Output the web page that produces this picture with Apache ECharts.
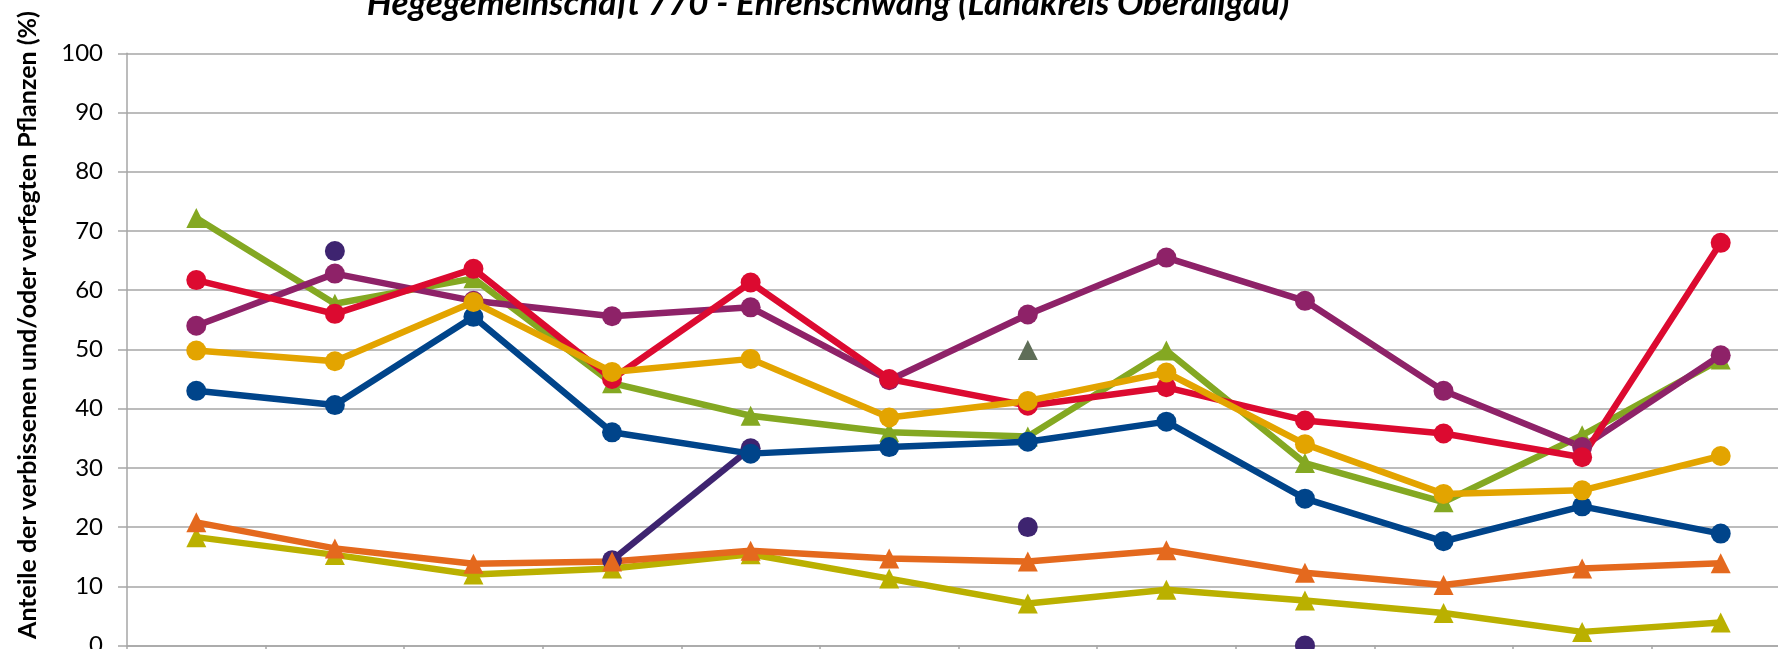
<!DOCTYPE html>
<html>
<head>
<meta charset="utf-8">
<script src="https://cdn.jsdelivr.net/npm/echarts@6/dist/echarts.min.js"></script>
<style>
html,body{margin:0;padding:0;background:#fff;}
#chart{width:1778px;height:649px;}
</style>
</head>
<body>
<div id="chart"></div>
<script>
const titleText = 'Hegegemeinschaft 770 - Ehrenschwang (Landkreis Oberallgäu)';
const yAxisTitle = 'Anteile der verbissenen und/oder verfegten Pflanzen (%)';
const categories = ['1991','1994','1997','2000','2003','2006','2009','2012','2015','2018','2021','2024'];

const darkPurple = [null, 66.6, null, 14.4, 33.3, null, 20.0, null, 0.0, null, null, null];
const yellowTri  = [18.3, 15.3, 12.0, 13.0, 15.4, 11.3, 7.1, 9.4, 7.6, 5.5, 2.3, 3.9];
const orangeTri  = [20.8, 16.4, 13.8, 14.2, 16.0, 14.7, 14.2, 16.1, 12.3, 10.2, 13.0, 13.9];
const greenTri   = [72.2, 57.7, 62.0, 44.3, 38.8, 36.0, 35.3, 49.8, 30.8, 24.2, 35.5, 48.3];
const purple     = [54.0, 62.8, 58.2, 55.6, 57.1, 44.8, 55.9, 65.5, 58.2, 43.0, 33.5, 49.0];
const blue       = [43.0, 40.6, 55.5, 36.0, 32.4, 33.5, 34.4, 37.8, 24.8, 17.6, 23.5, 18.9];
const red        = [61.7, 56.0, 63.6, 45.0, 61.3, 45.0, 40.5, 43.6, 38.0, 35.8, 31.8, 68.0];
const gold       = [49.8, 48.0, 58.0, 46.2, 48.4, 38.5, 41.3, 46.1, 34.0, 25.6, 26.2, 32.0];
const grayTri    = [null, null, null, null, null, null, 49.9, null, null, null, null, null];
const yTicks = [0, 10, 20, 30, 40, 50, 60, 70, 80, 90, 100];

function mk(data, color, symbol, showLine) {
  return {
    type: 'line',
    data: data,
    symbol: symbol,
    symbolSize: 20,
    showSymbol: true,
    connectNulls: false,
    lineStyle: { color: color, width: showLine === false ? 0 : 6.5 },
    itemStyle: { color: color },
    emphasis: { disabled: true },
    animation: false
  };
}

const chart = echarts.init(document.getElementById('chart'), null, { renderer: 'canvas' });
chart.setOption({
  animation: false,
  backgroundColor: '#ffffff',
  grid: { left: 127, top: 53.3, width: 1663, height: 592.2, containLabel: false, outerBoundsMode: 'none' },
  graphic: [
    {
      type: 'text',
      x: 828, y: 4,
      style: {
        text: titleText,
        font: 'italic bold 35px Lato',
        fill: '#000',
        textAlign: 'center',
        textVerticalAlign: 'middle'
      }
    },
    {
      type: 'text',
      x: 28, y: 325,
      rotation: Math.PI / 2,
      style: {
        text: yAxisTitle,
        font: 'bold 25px Lato',
        fill: '#000',
        textAlign: 'center',
        textVerticalAlign: 'middle'
      }
    }
  ],
  xAxis: {
    type: 'category',
    data: categories,
    boundaryGap: true,
    axisLine: { lineStyle: { color: '#a6a6a6', width: 1.5 } },
    axisTick: { show: true, interval: 0, length: 8, lineStyle: { color: '#a6a6a6', width: 1.5 } },
    axisLabel: { fontFamily: 'Lato', fontSize: 24, color: '#000' },
    splitLine: { show: false }
  },
  yAxis: {
    type: 'value',
    min: yTicks[0], max: yTicks[yTicks.length - 1], interval: 10,
    axisLine: { show: true, lineStyle: { color: '#a6a6a6', width: 1.5 } },
    axisTick: { show: true, length: 9, lineStyle: { color: '#a6a6a6', width: 1.5 } },
    axisLabel: { fontFamily: 'Lato', fontSize: 24, color: '#000', margin: 24 },
    splitLine: { show: true, lineStyle: { color: '#a6a6a6', width: 1.5 } }
  },
  series: [
    mk(darkPurple, '#3e2470', 'circle'),
    mk(yellowTri, '#bab000', 'triangle'),
    mk(orangeTri, '#e4691e', 'triangle'),
    mk(greenTri, '#84a822', 'triangle'),
    mk(purple, '#8e2268', 'circle'),
    mk(blue, '#00448a', 'circle'),
    mk(red, '#dc0a30', 'circle'),
    mk(gold, '#e3a400', 'circle'),
    mk(grayTri, '#5f6e58', 'triangle', false)
  ]
});
</script>
</body>
</html>
